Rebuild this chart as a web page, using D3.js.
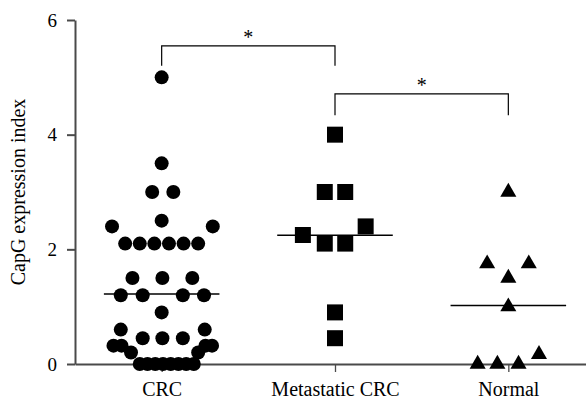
<!DOCTYPE html>
<html>
<head>
    <title>CapG expression index</title>
    <script src="https://d3js.org/d3.v7.min.js"></script>
    <style>
        body { margin: 0; background: #fff; }
        text { font-family: "Liberation Serif", "DejaVu Serif", serif; fill: #000; }
    </style>
</head>
<body>
    <script>
        // groups and values
        var categories = ["CRC", "Metastatic CRC", "Normal"];
        var yTicks = [0, 2, 4, 6];

        // CRC (circles) value / jitter slot
        var crcValues = [5.0, 3.5, 3.0, 3.0, 2.5, 2.4, 2.4,
                         2.1, 2.1, 2.1, 2.1, 2.1, 2.1,
                         1.5, 1.5, 1.5, 1.2, 1.2, 1.2, 1.2, 0.9,
                         0.6, 0.6, 0.45, 0.45, 0.45,
                         0.32, 0.32, 0.32, 0.32, 0.2, 0.2,
                         0, 0, 0, 0, 0, 0, 0, 0];
        var crcJitter = [0, 0, -0.65, 0.8, 0, -3.4, 3.5,
                         -2.5, -1.5, -0.5, 0.5, 1.5, 2.5,
                         -2, 0.05, 2.1, -2.8, -1.3, 1.45, 2.9, 0,
                         -2.8, 2.95, -1.3, 0.05, 1.45,
                         -3.3, -2.75, 3.0, 3.45, -2.1, 2.5,
                         -1.5, -0.97, -0.44, 0.09, 0.62, 1.15, 1.68, 2.2];

        // Metastatic CRC (squares)
        var metValues = [4.0, 3.0, 3.0, 2.4, 2.25, 2.1, 2.1, 0.9, 0.45];
        var metJitter = [0, -0.7, 0.7, 2.1, -2.2, -0.7, 0.7, 0, 0];

        // Normal (triangles)
        var normValues = [3.0, 1.75, 1.75, 1.5, 1.0, 0.17, 0, 0, 0];
        var normJitter = [0, -1.45, 1.4, 0, 0, 2.1, -2.1, -0.75, 0.7];

        // significance brackets
        var brackets = [
            {from: "CRC", to: "Metastatic CRC", level: 5.55, leg: 5.2, label: "*"},
            {from: "Metastatic CRC", to: "Normal", level: 4.71, leg: 4.34, label: "*"}
        ];

        var groups = [
            {name: categories[0], values: crcValues, jitter: crcJitter, shape: "circle"},
            {name: categories[1], values: metValues, jitter: metJitter, shape: "square"},
            {name: categories[2], values: normValues, jitter: normJitter, shape: "triangle"}
        ];

        var width = 586, height = 401;
        var marginLeft = 75, plotTop = 20, plotBottom = 364;

        var svg = d3.select("body")
                    .append("svg")
                    .attr("width", width)
                    .attr("height", height);

        var x = d3.scalePoint()
                  .domain(categories)
                  .range([marginLeft, 595])
                  .padding(0.5);

        var y = d3.scaleLinear()
                  .domain([0, 6])
                  .range([plotBottom, plotTop]);

        // jitter slot -> pixels
        var jx = d3.scaleLinear().domain([0, 1]).range([0, 14.6]);

        var axisColor = "#4a4a4a";

        // y axis
        var yAxis = svg.append("g")
                       .attr("transform", "translate(" + marginLeft + ",0)")
                       .call(d3.axisLeft(y).tickValues(yTicks).tickFormat(d3.format("d"))
                               .tickSize(8).tickPadding(10).tickSizeOuter(0));
        yAxis.select(".domain").attr("stroke", axisColor).attr("stroke-width", 2);
        yAxis.selectAll(".tick line").attr("stroke", axisColor).attr("stroke-width", 2);
        yAxis.selectAll(".tick text").attr("font-size", 19).attr("font-family", null);

        // x axis
        var xAxis = svg.append("g")
                       .attr("transform", "translate(0," + plotBottom + ")")
                       .call(d3.axisBottom(x).tickSize(8).tickPadding(10).tickSizeOuter(0));
        xAxis.select(".domain").attr("stroke", axisColor).attr("stroke-width", 2);
        xAxis.selectAll(".tick line").attr("stroke", axisColor).attr("stroke-width", 1.3)
             .attr("y1", 1);
        xAxis.selectAll(".tick text").attr("font-size", 20).attr("font-family", null);

        // y label
        svg.append("text")
           .attr("transform", "rotate(-90)")
           .attr("x", -(plotTop + plotBottom) / 2)
           .attr("y", 25)
           .attr("text-anchor", "middle")
           .attr("font-size", 20)
           .text("CapG expression index");

        // points
        var pts = svg.append("g");
        groups.forEach(function (g) {
            var data = g.values.map(function (v, i) { return {v: v, j: g.jitter[i]}; });
            var cx = x(g.name);
            if (g.shape === "circle") {
                pts.append("g").selectAll("circle")
                   .data(data)
                   .join("circle")
                   .attr("cx", d => cx + jx(d.j))
                   .attr("cy", d => y(d.v))
                   .attr("r", 7)
                   .attr("fill", "#000");
            } else {
                var sym = g.shape === "square"
                    ? d3.symbol().type(d3.symbolSquare).size(256)
                    : d3.symbol().type(d3.symbolTriangle).size(112);
                pts.append("g").selectAll("path")
                   .data(data)
                   .join("path")
                   .attr("d", sym)
                   .attr("transform", d => "translate(" + (cx + jx(d.j)) + "," + y(d.v) + ")")
                   .attr("fill", "#000");
            }
            // mean line
            var m = d3.mean(g.values);
            pts.append("line")
               .attr("x1", cx - x.step() / 3)
               .attr("x2", cx + x.step() / 3)
               .attr("y1", y(m))
               .attr("y2", y(m))
               .attr("stroke", "#000")
               .attr("stroke-width", 1.5);
        });

        // significance brackets
        var br = svg.append("g").selectAll("g")
                    .data(brackets)
                    .join("g");
        br.append("path")
          .attr("d", d => "M" + x(d.from) + "," + y(d.leg) + "V" + y(d.level) +
                          "H" + x(d.to) + "V" + y(d.leg))
          .attr("fill", "none")
          .attr("stroke", "#000")
          .attr("stroke-width", 1.2);
        br.append("text")
          .attr("x", d => (x(d.from) + x(d.to)) / 2)
          .attr("y", d => y(d.level) - 2)
          .attr("text-anchor", "middle")
          .attr("font-size", 20)
          .text(d => d.label);
    </script>
</body>
</html>
